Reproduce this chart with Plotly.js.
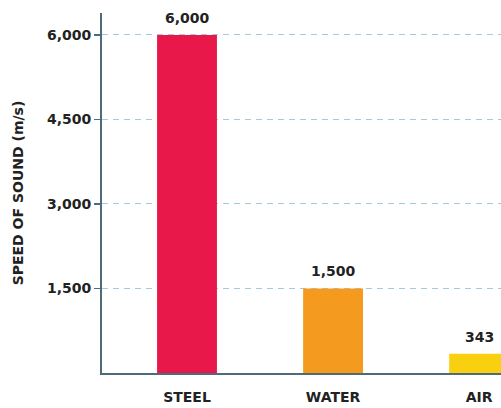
<!DOCTYPE html>
<html>
<head>
<meta charset="utf-8">
<script src="https://cdn.plot.ly/plotly-3.0.1.min.js"></script>
<style>
html,body{margin:0;padding:0;background:#fff;}
#chart{width:501px;height:408px;}
</style>
</head>
<body>
<div id="chart"></div>
<script>
const categories = ["STEEL", "WATER", "AIR"];
const speeds = [6000, 1500, 343];
const speedLabels = ["6,000", "1,500", "343"];
const barColors = ["#e8194a", "#f49a1f", "#f9d010"];
const tickValues = [1500, 3000, 4500, 6000];
const tickLabels = ["1,500", "3,000", "4,500", "6,000"];

const font = "'DejaVu Sans', Verdana, sans-serif";
const textColor = "#222222";

const trace = {
  type: "bar",
  x: categories,
  y: speeds,
  width: 0.41,
  marker: {color: barColors, line: {width: 0}},
  hoverinfo: "none"
};

const annotations = categories.map((c, i) => ({
  x: c,
  y: speeds[i],
  xref: "x",
  yref: "y",
  text: speedLabels[i],
  showarrow: false,
  yanchor: "bottom",
  yshift: 7,
  font: {family: font, size: 14, color: textColor, weight: 700}
}));

const layout = {
  width: 501,
  height: 408,
  margin: {l: 102, r: 0, t: 13, b: 35},
  paper_bgcolor: "#ffffff",
  plot_bgcolor: "#ffffff",
  showlegend: false,
  annotations: annotations,
  xaxis: {
    type: "category",
    range: [-0.582, 2.15],
    showline: true,
    linecolor: "#4d6b78",
    linewidth: 2,
    ticks: "",
    showgrid: false,
    zeroline: false,
    tickfont: {family: font, size: 14, color: textColor, weight: 700},
    ticklabelstandoff: 10
  },
  yaxis: {
    range: [0, 6390],
    showline: true,
    linecolor: "#4d6b78",
    linewidth: 2,
    ticks: "outside",
    ticklen: 6,
    tickwidth: 1.5,
    tickcolor: "#4d6b78",
    tickvals: tickValues,
    ticktext: tickLabels,
    tickfont: {family: font, size: 14, color: textColor, weight: 700},
    showgrid: true,
    gridcolor: "#a3cbe0",
    griddash: "6px,5px",
    gridwidth: 1,
    zeroline: false,
    title: {
      text: "SPEED OF SOUND (m/s)",
      font: {family: font, size: 14, color: textColor, weight: 700},
      standoff: 20
    }
  }
};

Plotly.newPlot("chart", [trace], layout, {displayModeBar: false, staticPlot: true});
</script>
</body>
</html>
